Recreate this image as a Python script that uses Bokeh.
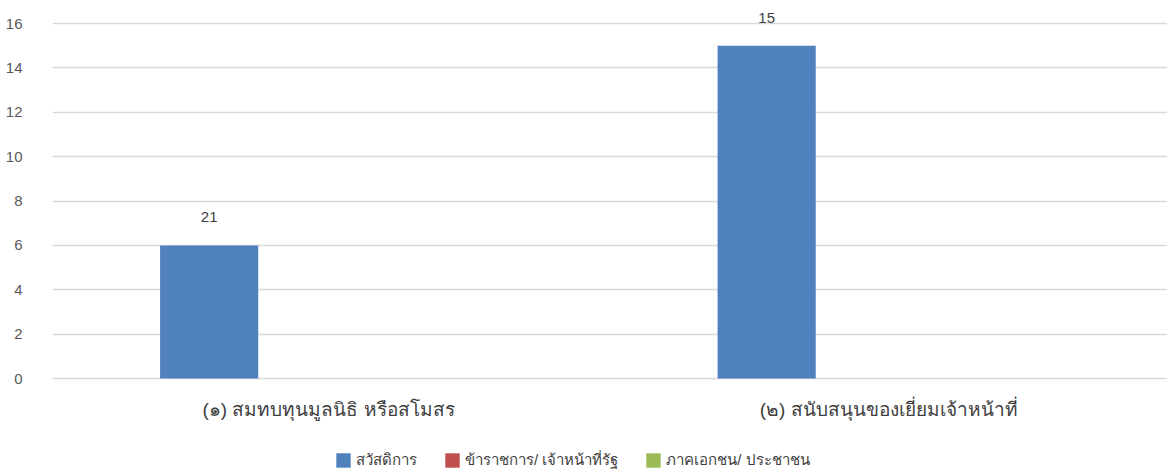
from bokeh.plotting import figure
from bokeh.models import ColumnDataSource, Legend, LegendItem, FactorRange, LabelSet
from bokeh.transform import dodge
from bokeh.core.properties import value
from bokeh.embed import file_html
from bokeh.resources import INLINE

categories = ["(๑) สมทบทุนมูลนิธิ  หรือสโมสร", "(๒) สนับสนุนของเยี่ยมเจ้าหน้าที่"]
series_names = ["สวัสดิการ", "ข้าราชการ/ เจ้าหน้าที่รัฐ", "ภาคเอกชน/ ประชาชน"]
welfare = [6, 15]
officials = [0, 0]
private = [0, 0]
welfare_labels = ["21", "15"]
y_ticks = [0, 2, 4, 6, 8, 10, 12, 14, 16]

colors = ["#4F81BD", "#C0504D", "#9BBB59"]
num_font = "Liberation Sans"

source = ColumnDataSource(data=dict(
    cat=categories,
    welfare=welfare,
    officials=officials,
    private=private,
    lbl=welfare_labels,
))

# 16 units span 355 px; the frame also holds the headroom above the bars
# and the strip below zero where the category labels and legend sit
px_per_unit = 355 / 16
p = figure(
    frame_width=1115, frame_height=471,
    x_range=FactorRange(*categories, range_padding=0, factor_padding=0),
    y_range=(-96 / px_per_unit, 16 + 20 / px_per_unit),
    output_backend="svg", toolbar_location=None,
    min_border_left=52, min_border_right=0, min_border_top=3, min_border_bottom=0,
)
p.outline_line_color = None

bar_w = 0.176
step = 0.219
r1 = p.vbar(x=dodge("cat", -step, range=p.x_range), top="welfare", width=bar_w,
            source=source, fill_color=colors[0], line_color=None)
r2 = p.vbar(x=dodge("cat", 0, range=p.x_range), top="officials", width=bar_w,
            source=source, fill_color=colors[1], line_color=None)
r3 = p.vbar(x=dodge("cat", step, range=p.x_range), top="private", width=bar_w,
            source=source, fill_color=colors[2], line_color=None)

# value labels above the welfare bars
labels = LabelSet(x=dodge("cat", -step, range=p.x_range), y="welfare", text="lbl",
                  source=source, text_align="center", text_baseline="alphabetic",
                  y_offset=23, text_font=value(num_font), text_font_size="15px",
                  text_color="#404040")
p.add_layout(labels)

p.yaxis.ticker = y_ticks
p.yaxis.axis_line_color = None
p.yaxis.major_tick_line_color = None
p.yaxis.minor_tick_line_color = None
p.yaxis.major_label_standoff = 24
p.yaxis.major_label_text_font = num_font
p.yaxis.major_label_text_font_size = "15px"
p.yaxis.major_label_text_color = "#595959"

# category axis pinned to the zero line
p.xaxis.fixed_location = 0
p.xaxis.axis_line_color = None
p.xaxis.major_tick_line_color = None
p.xaxis.minor_tick_line_color = None
p.xaxis.major_label_standoff = 14
p.xaxis.major_label_text_font_size = "19px"
p.xaxis.major_label_text_color = "#404040"

p.xgrid.grid_line_color = None
p.ygrid.ticker = y_ticks
p.ygrid.grid_line_color = "#d9d9d9"
p.ygrid.grid_line_width = 1.5

legend = Legend(items=[
    LegendItem(label=series_names[0], renderers=[r1]),
    LegendItem(label=series_names[1], renderers=[r2]),
    LegendItem(label=series_names[2], renderers=[r3]),
], orientation="horizontal", location=(282, 2), border_line_color=None,
    background_fill_alpha=0, glyph_width=18, glyph_height=18, spacing=26,
    label_standoff=4, label_height=18,
    label_text_font_size="15px", label_text_color="#404040",
    padding=0, margin=0)
p.add_layout(legend, "center")

open("out.html", "w").write(file_html(p, INLINE))
